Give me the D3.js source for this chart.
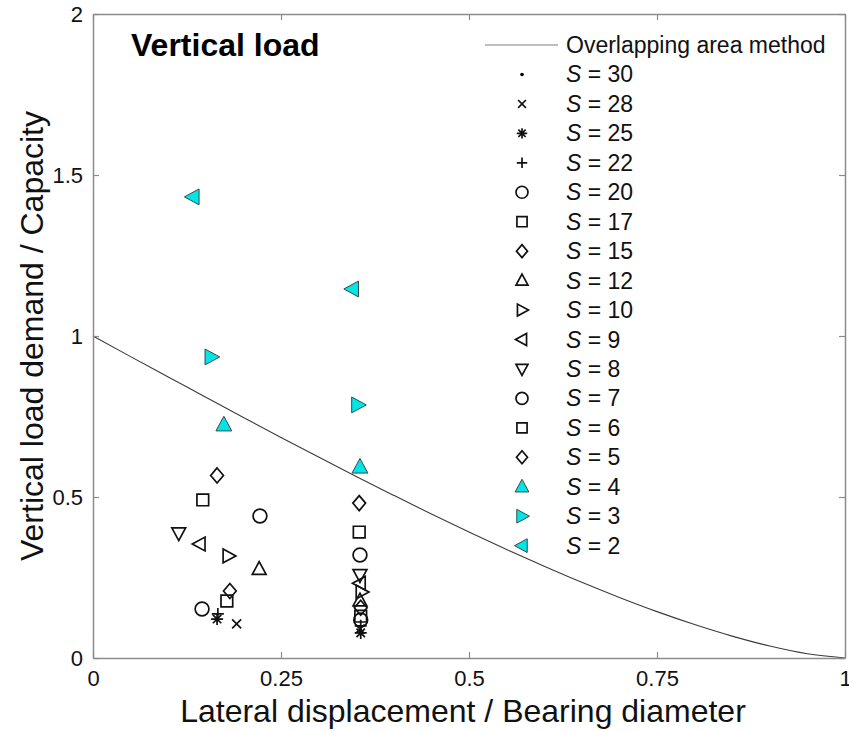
<!DOCTYPE html>
<html>
<head>
<meta charset="utf-8">
<script src="https://cdn.jsdelivr.net/npm/d3@7"></script>
<style>
  body { margin: 0; background: #fff; }
  text { font-family: Arial, "Liberation Sans", sans-serif; }
</style>
</head>
<body>
<svg id="chart" width="849" height="732"></svg>
<script>
// ---------- data ----------
const sLabels = [30, 28, 25, 22, 20, 17, 15, 12, 10, 9, 8, 7, 6, 5, 4, 3, 2];
const markerTypes = ["dot", "times", "asterisk", "plus", "circle", "square", "diamond",
  "triUp", "triRight", "triLeft", "triDown", "circle", "square", "diamond", "triUp", "triRight", "triLeft"];
const filled = [false, false, false, false, false, false, false, false, false, false, false, false, false, false, true, true, true];

// displacement ratio, first test group (left column)
const xLeft = [0.165, 0.191, 0.165, 0.166, 0.145, 0.178, 0.182, 0.221, 0.180, 0.142, 0.114, 0.222, 0.146, 0.165, 0.174, 0.157, 0.133];
const yLeft = [0.118, 0.106, 0.121, 0.137, 0.152, 0.177, 0.208, 0.276, 0.317, 0.354, 0.388, 0.441, 0.491, 0.567, 0.724, 0.935, 1.432];
// second test group (right column)
const xRight = [0.356, 0.355, 0.356, 0.356, 0.356, 0.356, 0.356, 0.355, 0.357, 0.355, 0.355, 0.355, 0.354, 0.354, 0.355, 0.352, 0.345];
const yRight = [0.085, 0.090, 0.078, 0.100, 0.118, 0.130, 0.156, 0.178, 0.205, 0.232, 0.258, 0.320, 0.391, 0.481, 0.593, 0.786, 1.146];

// overlapping area method curve
const curveX = [0, 0.05, 0.1, 0.15, 0.2, 0.25, 0.3, 0.35, 0.4, 0.45, 0.5, 0.55, 0.6, 0.65, 0.7, 0.75, 0.8, 0.85, 0.9, 0.95, 1];
const curveY = [1, 0.936, 0.873, 0.810, 0.747, 0.685, 0.624, 0.564, 0.505, 0.447, 0.391, 0.337, 0.285, 0.235, 0.188, 0.144, 0.104, 0.068, 0.037, 0.013, 0];

const xTicks = [0, 0.25, 0.5, 0.75, 1];
const xTickLabels = ["0", "0.25", "0.5", "0.75", "1"];
const yTicks = [0, 0.5, 1, 1.5, 2];
const yTickLabels = ["0", "0.5", "1", "1.5", "2"];

// ---------- layout ----------
const svg = d3.select("#chart");
const L = 93, R = 845, T = 14, B = 658;
const x = d3.scaleLinear().domain([0, 1]).range([L, R]);
const y = d3.scaleLinear().domain([0, 2]).range([B, T]);
const frameColor = "#8c8c8c";
const tickLen = 6;

// curve
svg.append("path")
  .datum(curveX.map((v, i) => [v, curveY[i]]))
  .attr("d", d3.line().x(d => x(d[0])).y(d => y(d[1])).curve(d3.curveMonotoneX))
  .attr("fill", "none").attr("stroke", "#3c3c3c").attr("stroke-width", 1.1);

// axes (ticks inward, box)
const axB = svg.append("g").attr("transform", `translate(0,${B})`)
  .call(d3.axisBottom(x).tickValues(xTicks).tickFormat((d, i) => xTickLabels[i]).tickSizeInner(-tickLen).tickSizeOuter(0).tickPadding(12));
const axT = svg.append("g").attr("transform", `translate(0,${T})`)
  .call(d3.axisTop(x).tickValues(xTicks).tickFormat("").tickSizeInner(-tickLen).tickSizeOuter(0));
const axL = svg.append("g").attr("transform", `translate(${L},0)`)
  .call(d3.axisLeft(y).tickValues(yTicks).tickFormat((d, i) => yTickLabels[i]).tickSizeInner(-tickLen).tickSizeOuter(0).tickPadding(10));
const axR = svg.append("g").attr("transform", `translate(${R},0)`)
  .call(d3.axisRight(y).tickValues(yTicks).tickFormat("").tickSizeInner(-tickLen).tickSizeOuter(0));
[axB, axT, axL, axR].forEach(g => {
  g.select(".domain").attr("stroke", frameColor).attr("stroke-width", 1.5);
  g.selectAll(".tick line").attr("stroke", frameColor).attr("stroke-width", 1.2);
  g.selectAll(".tick text").attr("fill", "#111").style("font-size", "22px").style("font-family", "Arial, 'Liberation Sans', sans-serif");
});

// ---------- markers ----------
function markerPath(type, s) {
  const h = s / 2;
  switch (type) {
    case "square": { const a = h * 0.78; return `M${-a},${-a}H${a}V${a}H${-a}Z`; }
    case "diamond": { const a = h * 1.0, b = h * 0.85; return `M0,${-a}L${b},0L0,${a}L${-b},0Z`; }
    case "triUp": { const a = h; return `M0,${-a}L${a * 0.92},${a * 0.7}L${-a * 0.92},${a * 0.7}Z`; }
    case "triDown": { const a = h; return `M0,${a}L${a * 0.92},${-a * 0.7}L${-a * 0.92},${-a * 0.7}Z`; }
    case "triRight": { const a = h; return `M${a},0L${-a * 0.7},${a * 0.92}L${-a * 0.7},${-a * 0.92}Z`; }
    case "triLeft": { const a = h; return `M${-a},0L${a * 0.7},${a * 0.92}L${a * 0.7},${-a * 0.92}Z`; }
    case "plus": { const a = h * 0.8; return `M${-a},0H${a}M0,${-a}V${a}`; }
    case "times": { const a = h * 0.6; return `M${-a},${-a}L${a},${a}M${-a},${a}L${a},${-a}`; }
    case "asterisk": { const a = h * 0.8, c = a * 0.7; return `M${-a},0H${a}M0,${-a}V${a}M${-c},${-c}L${c},${c}M${-c},${c}L${c},${-c}`; }
  }
  return "";
}
function drawMarker(g, type, isFilled, px, py, size) {
  if (type === "dot") {
    g.append("circle").attr("cx", px).attr("cy", py).attr("r", 1.8).attr("fill", "#000");
  } else if (type === "circle") {
    g.append("circle").attr("cx", px).attr("cy", py).attr("r", size * 0.46)
      .attr("fill", "none").attr("stroke", "#111").attr("stroke-width", 1.7);
  } else {
    g.append("path").attr("d", markerPath(type, isFilled ? size * 1.15 : size))
      .attr("transform", `translate(${px},${py})`)
      .attr("fill", isFilled ? "#00e5e5" : "none")
      .attr("stroke", isFilled ? "#3a4a4a" : "#111")
      .attr("stroke-width", isFilled ? 1 : 1.7)
      .attr("stroke-linejoin", "miter");
  }
}

const marks = svg.append("g");
sLabels.forEach((s, i) => {
  drawMarker(marks, markerTypes[i], filled[i], x(xLeft[i]), y(yLeft[i]), 15);
  drawMarker(marks, markerTypes[i], filled[i], x(xRight[i]), y(yRight[i]), 15);
});

// ---------- legend ----------
const leg = svg.append("g");
const legY0 = 45, legDy = 29.45;
leg.append("line").attr("x1", 485).attr("x2", 558).attr("y1", legY0).attr("y2", legY0)
  .attr("stroke", "#a8a8a8").attr("stroke-width", 1.6);
leg.append("text").attr("x", 566).attr("y", legY0 + 8).style("font-size", "23px").attr("fill", "#111")
  .text("Overlapping area method");
sLabels.forEach((s, i) => {
  const ly = legY0 + legDy * (i + 1);
  drawMarker(leg, markerTypes[i], filled[i], 522, ly, 13);
  const t = leg.append("text").attr("x", 566).attr("y", ly + 8).style("font-size", "23px").attr("fill", "#111");
  t.append("tspan").style("font-style", "italic").text("S");
  t.append("tspan").text(" = " + s);
});

// ---------- titles ----------
svg.append("text").attr("x", 131).attr("y", 56).style("font-size", "32px").style("font-weight", "bold")
  .attr("fill", "#000").text("Vertical load");
svg.append("text").attr("x", (L + R) / 2 - 6).attr("y", 722).attr("text-anchor", "middle")
  .style("font-size", "32px").attr("fill", "#111").text("Lateral displacement / Bearing diameter");
svg.append("text").attr("transform", `translate(43,${(T + B) / 2}) rotate(-90)`).attr("text-anchor", "middle")
  .style("font-size", "32px").attr("fill", "#111").text("Vertical load demand / Capacity");
</script>
</body>
</html>
